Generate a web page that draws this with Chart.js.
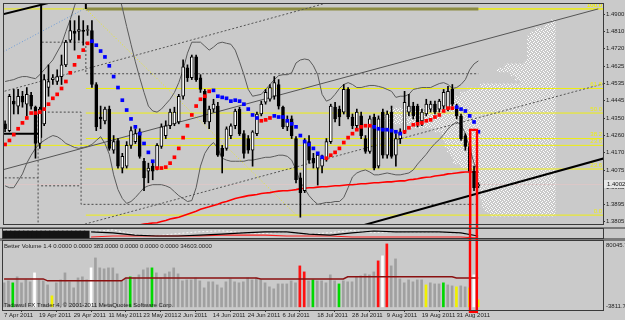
<!DOCTYPE html>
<html>
<head>
<meta charset="utf-8">
<title>EURUSD Daily</title>
<script src="https://cdn.jsdelivr.net/npm/chart.js@4.4.1/dist/chart.umd.min.js"></script>
<style>
  html, body { margin: 0; padding: 0; background: #cacaca; }
  #wrap { position: relative; width: 625px; height: 320px; overflow: hidden; background: #cacaca; }
  #wrap canvas { position: absolute; left: 0; }
  .sep { position: absolute; left: 0; width: 625px; background: #7c7c7c; }
</style>
</head>
<body>
<div id="wrap">
  <div class="sep" style="top:227px;height:2px"></div>
  <div class="sep" style="top:238px;height:3px"></div>
  <canvas id="profile" width="625" height="228" style="top:0"></canvas>
  <canvas id="main" width="625" height="228" style="top:0"></canvas>
  <canvas id="osc" width="625" height="11" style="top:228px"></canvas>
  <canvas id="vol" width="625" height="81" style="top:239px"></canvas>
</div>
<script>
// daily bars, 7 Apr 2011 .. 7 Sep 2011
const opens = [1.4323,1.4287,1.4443,1.4417,1.4469,1.4427,1.4474,1.4411,1.4219,1.4323,
  1.4515,1.4557,1.4547,1.4573,1.4635,1.4765,1.4812,1.4812,1.4817,1.4817,
  1.4817,1.4531,1.4359,1.4339,1.4401,1.4183,1.4235,1.4089,1.4099,1.4209,
  1.4229,1.4281,1.4125,1.4073,1.4099,1.4089,1.4203,1.4261,1.4313,1.4323,
  1.4333,1.4469,1.4619,1.4567,1.4677,1.4567,1.4495,1.4333,1.4401,1.4417,
  1.4193,1.4193,1.4261,1.4313,1.4401,1.4271,1.4245,1.4183,1.4271,1.4375,
  1.4437,1.4453,1.4469,1.4531,1.4411,1.4307,1.4349,1.4245,1.4037,1.3969,
  1.4229,1.4141,1.4089,1.4099,1.4141,1.4229,1.4411,1.4401,1.4385,1.4505,
  1.4359,1.4313,1.4365,1.4245,1.4177,1.4359,1.4099,1.4385,1.4157,1.4385,
  1.4157,1.4245,1.4281,1.4385,1.4417,1.4417,1.4339,1.4375,1.4401,1.4427,
  1.4401,1.4417,1.4401,1.4505,1.4417,1.4365,1.4261,1.4203,1.4073,1.3995];
const highs = [1.4339,1.4479,1.4505,1.4505,1.4495,1.4515,1.4489,1.4417,1.4411,1.4583,
  1.4635,1.4583,1.4609,1.4687,1.4765,1.4869,1.4869,1.4895,1.4869,1.4843,
  1.4869,1.4541,1.4417,1.4411,1.4417,1.4261,1.4245,1.4167,1.4229,1.4307,
  1.4297,1.4297,1.4141,1.4115,1.4125,1.4219,1.4323,1.4339,1.4401,1.4411,
  1.4479,1.4661,1.4635,1.4687,1.4687,1.4583,1.4505,1.4417,1.4453,1.4437,
  1.4209,1.4307,1.4323,1.4401,1.4411,1.4287,1.4261,1.4287,1.4385,1.4443,
  1.4505,1.4531,1.4573,1.4557,1.4417,1.4365,1.4365,1.4255,1.4063,1.4245,
  1.4261,1.4167,1.4167,1.4157,1.4245,1.4427,1.4437,1.4417,1.4531,1.4515,
  1.4375,1.4401,1.4385,1.4261,1.4365,1.4375,1.4365,1.4401,1.4391,1.4417,
  1.4271,1.4297,1.4495,1.4479,1.4437,1.4427,1.4401,1.4453,1.4443,1.4443,
  1.4453,1.4505,1.4521,1.4531,1.4427,1.4375,1.4271,1.4219,1.4099,1.4011];
const lows = [1.4281,1.4281,1.4375,1.4375,1.4411,1.4365,1.4401,1.4141,1.4193,1.4313,
  1.4469,1.4531,1.4531,1.4531,1.4625,1.4755,1.4713,1.4765,1.4739,1.4791,
  1.4515,1.4287,1.4297,1.4323,1.4183,1.4167,1.4089,1.4063,1.4089,1.4193,
  1.4219,1.4141,1.3969,1.4011,1.4027,1.4079,1.4193,1.4245,1.4297,1.4313,
  1.4323,1.4453,1.4547,1.4557,1.4547,1.4489,1.4323,1.4297,1.4385,1.4151,
  1.4063,1.4183,1.4245,1.4297,1.4261,1.4141,1.4167,1.4099,1.4261,1.4365,
  1.4427,1.4443,1.4453,1.4401,1.4297,1.4287,1.4245,1.4011,1.3829,1.3959,
  1.4115,1.4089,1.3999,1.4063,1.4125,1.4219,1.4333,1.4313,1.4375,1.4349,
  1.4297,1.4297,1.4245,1.4167,1.4167,1.4079,1.4089,1.4141,1.4141,1.4141,
  1.4099,1.4219,1.4271,1.4365,1.4349,1.4307,1.4313,1.4365,1.4385,1.4375,
  1.4385,1.4401,1.4391,1.4417,1.4349,1.4235,1.4183,1.4063,1.3969,1.3985];
const closes = [1.4297,1.4469,1.4427,1.4469,1.4437,1.4479,1.4417,1.4219,1.4401,1.4557,
  1.4547,1.4567,1.4573,1.4635,1.4755,1.4817,1.4801,1.4822,1.4812,1.4822,
  1.4531,1.4307,1.4349,1.4401,1.4193,1.4229,1.4099,1.4151,1.4209,1.4287,
  1.4271,1.4151,1.4037,1.4089,1.4073,1.4209,1.4307,1.4313,1.4385,1.4385,
  1.4469,1.4625,1.4567,1.4677,1.4557,1.4505,1.4333,1.4401,1.4427,1.4157,
  1.4151,1.4297,1.4313,1.4391,1.4271,1.4167,1.4183,1.4281,1.4375,1.4427,
  1.4489,1.4515,1.4541,1.4417,1.4307,1.4339,1.4261,1.4027,1.3959,1.4229,
  1.4131,1.4115,1.4157,1.4141,1.4229,1.4417,1.4349,1.4359,1.4505,1.4359,
  1.4313,1.4385,1.4261,1.4177,1.4349,1.4089,1.4349,1.4157,1.4375,1.4151,
  1.4245,1.4281,1.4437,1.4417,1.4365,1.4323,1.4385,1.4427,1.4427,1.4385,
  1.4443,1.4489,1.4495,1.4427,1.4365,1.4245,1.4203,1.4073,1.3985,1.4002];

// Bollinger bands
const bandUpper = [1.4547,1.4552,1.4557,1.4567,1.4573,1.4573,1.4567,1.4562,1.4583,1.4609,
  1.4635,1.4661,1.4703,1.4744,1.4812,1.4874,1.4947,1.5015,1.5051,1.5077,
  1.5087,1.5087,1.5087,1.5087,1.5077,1.5067,1.5025,1.4937,1.4838,1.4744,
  1.4651,1.4567,1.4489,1.4417,1.4391,1.4385,1.4401,1.4427,1.4453,1.4489,
  1.4541,1.4609,1.4697,1.4755,1.4755,1.4755,1.4734,1.4713,1.4729,1.4749,
  1.4755,1.4749,1.4744,1.4713,1.4651,1.4583,1.4505,1.4469,1.4474,1.4479,
  1.4505,1.4531,1.4557,1.4578,1.4583,1.4583,1.4593,1.4645,1.4661,1.4666,
  1.4661,1.4630,1.4583,1.4479,1.4443,1.4453,1.4479,1.4510,1.4531,1.4541,
  1.4531,1.4515,1.4515,1.4521,1.4526,1.4526,1.4521,1.4515,1.4505,1.4495,
  1.4463,1.4469,1.4469,1.4479,1.4505,1.4510,1.4515,1.4515,1.4515,1.4526,
  1.4536,1.4541,1.4531,1.4510,1.4515,1.4531,1.4557,1.4609,1.4640,1.4656];
const bandLower = [1.3995,1.3985,1.3985,1.4021,1.4058,1.4115,1.4157,1.4193,1.4219,1.4235,
  1.4250,1.4261,1.4255,1.4240,1.4219,1.4209,1.4198,1.4193,1.4198,1.4203,
  1.4214,1.4235,1.4255,1.4219,1.4162,1.4053,1.3975,1.3928,1.3902,1.3912,
  1.3933,1.3959,1.3985,1.3995,1.4001,1.4001,1.4001,1.3995,1.3985,1.3964,
  1.3943,1.3928,1.3912,1.3917,1.3985,1.4099,1.4167,1.4203,1.4224,1.4193,
  1.4141,1.4131,1.4125,1.4125,1.4125,1.4125,1.4131,1.4131,1.4136,1.4141,
  1.4146,1.4146,1.4151,1.4157,1.4157,1.4151,1.4131,1.4079,1.4016,1.3980,
  1.3943,1.3917,1.3897,1.3902,1.3907,1.3907,1.3912,1.3912,1.3933,1.3985,
  1.4042,1.4063,1.4073,1.4079,1.4068,1.4053,1.4053,1.4058,1.4063,1.4058,
  1.4053,1.4053,1.4058,1.4063,1.4079,1.4110,1.4136,1.4162,1.4193,1.4219,
  1.4240,1.4266,1.4297,1.4318,1.4333,1.4318,1.4271,1.4193,1.4115,1.4063];

// long moving average (red)
const maLong = [null,null,null,null,null,null,null,null,null,null,
  null,null,null,null,null,null,null,null,null,null,
  null,null,null,null,null,null,null,null,1.3777,1.3780,
  1.3782,1.3788,1.3793,1.3795,1.3798,1.3800,1.3806,1.3811,1.3819,1.3824,
  1.3829,1.3837,1.3845,1.3853,1.3860,1.3871,1.3878,1.3884,1.3891,1.3897,
  1.3907,1.3912,1.3920,1.3928,1.3933,1.3938,1.3943,1.3946,1.3949,1.3954,
  1.3957,1.3959,1.3964,1.3967,1.3969,1.3969,1.3972,1.3975,1.3980,1.3982,
  1.3985,1.3985,1.3988,1.3990,1.3990,1.3993,1.3995,1.3995,1.3998,1.4001,
  1.4001,1.4003,1.4006,1.4006,1.4009,1.4011,1.4011,1.4014,1.4016,1.4016,
  1.4019,1.4021,1.4021,1.4027,1.4029,1.4032,1.4037,1.4040,1.4042,1.4047,
  1.4050,1.4053,1.4058,1.4060,1.4063,1.4066,1.4068,1.4068,1.4068,1.4068];

// parabolic SAR: value and side (1 = below price / red, -1 = above / blue)
const sarValues = [1.4214,1.4235,1.4266,1.4297,1.4328,1.4354,1.4380,1.4380,1.4385,1.4401,
  1.4427,1.4458,1.4479,1.4510,1.4547,1.4593,1.4635,1.4677,1.4713,1.4749,
  1.4760,1.4739,1.4708,1.4677,1.4630,1.4573,1.4515,1.4448,1.4396,1.4349,
  1.4307,1.4271,1.4219,1.4172,1.4125,1.4089,1.4089,1.4094,1.4115,1.4146,
  1.4193,1.4250,1.4313,1.4370,1.4417,1.4453,1.4469,1.4495,1.4500,1.4469,
  1.4463,1.4458,1.4443,1.4448,1.4443,1.4427,1.4401,1.4370,1.4354,1.4339,
  1.4344,1.4354,1.4365,1.4359,1.4359,1.4339,1.4323,1.4307,1.4261,1.4229,
  1.4214,1.4193,1.4167,1.4146,1.4141,1.4157,1.4172,1.4193,1.4224,1.4250,
  1.4271,1.4292,1.4307,1.4313,1.4313,1.4307,1.4297,1.4292,1.4292,1.4287,
  1.4281,1.4271,1.4281,1.4302,1.4318,1.4323,1.4328,1.4339,1.4344,1.4359,
  1.4370,1.4391,1.4406,1.4406,1.4411,1.4401,1.4391,1.4365,1.4333,1.4281];
const sarSide = [1,1,1,1,1,1,1,1,1,1, 1,1,1,1,1,1,1,1,1,1,
  -1,-1,-1,-1,-1,-1,-1,-1,-1,-1, -1,-1,-1,-1,-1,1,1,1,1,1,
  1,1,1,1,1,1,1,1,-1,-1, -1,-1,-1,-1,-1,-1,-1,-1,-1,1,
  1,1,-1,-1,-1,-1,-1,-1,-1,-1, -1,-1,-1,-1,1,1,1,1,1,1,
  1,1,1,1,1,-1,-1,-1,-1,-1, -1,-1,1,1,1,1,1,1,1,1,
  1,1,1,1,-1,-1,-1,-1,-1,-1];

// price axis
const priceTicks = [1.4900,1.4810,1.4720,1.4625,1.4535,1.4445,1.4350,1.4260,1.4170,1.4075,1.3985,1.3895,1.3805];
const bidPrice = 1.4002;

// fibonacci retracements
const fibLevels = [1.4931,1.4510,1.4380,1.4245,1.4084,1.3840];
const fibLabels = ['100.0','61.8','50.0','38.2','23.6','0.0'];
const fibStart = 18.6;
const fib2Levels = [1.4931,1.4209];
const fib2Labels = ['100.0','23.6'];

// drawn objects: [bar index, price]
const channelLine = [[-1,1.4077],[136.6,1.4931]];
const channelDash = [[-1,1.4490],[80,1.5000]];
const lowerDash = [[17.5,1.3787],[138,1.4536]];
const supportLine = [[81.8,1.3782],[138,1.4141]];
const topLeftLine = [[-1,1.4900],[10.1,1.4963]];
const blueDotLine = [[-1,1.4697],[18.2,1.4931]];
const yellowDotLine = [[18.6,1.4931],[67.6,1.3829]];
const vertBar = [[8.3,1.4990],[8.3,1.4250]];
const horizBar = [[-1,1.4271],[7.6,1.4271]];
const vertTick = [[18.6,1.4990],[18.6,1.4931]];
const topBand = [[18.6,1.4931],[109,1.4931]];
const stepA = [[8.3,1.4250],[8.3,1.4755],[18.6,1.4755],[18.6,1.4588],[109,1.4588]];
const stepB = [[7.6,1.3780],[7.6,1.4385],[17.5,1.4385],[17.5,1.3897],[109,1.3897]];
const stepC = [[-1,1.4037],[7.6,1.4037]];
const stepD = [[8.3,1.3995],[17.5,1.3995]];
const redBoxIdx = 107.9;
const redBoxTop = 1.4297;

// price profile (white dots on the right)
const profileAnchor = 126.7;
const profilePrices = [1.4859,1.4838,1.4817,1.4796,1.4775,1.4755,1.4734,1.4713,1.4692,1.4671,
  1.4651,1.4630,1.4609,1.4588,1.4567,1.4547,1.4526,1.4505,1.4484,1.4463,
  1.4443,1.4422,1.4401,1.4380,1.4359,1.4339,1.4318,1.4297,1.4276,1.4255,
  1.4235,1.4214,1.4193,1.4172,1.4151,1.4131,1.4110,1.4089,1.4068,1.4048,
  1.4027,1.4006,1.3985,1.3964,1.3944,1.3923,1.3902,1.3881,1.3860];
const profileLen = [0.9,2.3,4.6,5.7,6.4,6.4,6.4,6.4,6.4,6.4,
  6.9,11.5,13.3,10.3,9.2,8.0,17.2,20.2,21.8,23.0,
  23.4,24.1,38.0,40.0,40.0,38.0,33.0,28.0,26.0,25.7,
  25.3,25.3,24.8,24.1,23.4,23.4,21.8,19.5,17.9,17.9,
  17.7,17.2,17.2,17.2,17.2,16.8,16.8,16.1,14.9];

// oscillator sub-window
const oscBlock = [78,78,78,78,78,78,78,78,78,78,78,78,78,78,78,78,78,78,78,78];
const oscIdx = [20,25,30,35,40,45,50,55,60,65,70,75,80,85,90,95,100,105,109];
const oscBlack = [67,56,33,22,22,33,44,56,67,67,44,33,56,78,67,67,67,56,22];
const oscRed = [11,22,22,22,22,22,33,33,33,22,22,22,11,11,11,11,11,11,0];
const oscGrey = [70,90,40,25,50,70,80,60,50,70,40,60,85,60,70,60,65,50,30];

// Better Volume
const volume = [29200,31600,29200,36500,29200,32800,30400,41300,32800,31600,
  26700,13400,29200,32800,41300,30400,23100,35200,36500,32800,
  47400,59500,47400,46200,47400,47400,40100,31600,35200,36500,
  35200,38900,45000,47400,47400,41300,35200,40100,42500,47400,
  40100,31600,32800,32800,35200,31600,23100,30400,30400,26700,
  23100,30400,34000,30400,29200,30400,35200,32800,35200,32800,
  29200,24300,21900,27900,27900,27900,31600,29200,49800,42500,
  31600,32800,31600,31600,29200,38900,31600,27900,31600,30400,
  30400,36500,37700,40100,38900,42500,55900,62000,76500,49800,
  58300,34000,29200,32800,30400,32800,32800,26700,29200,27900,
  27900,29200,26700,25500,24300,25500,24300,23100,38900,8500];
// n normal, g low volume, w churn, y climax low, r climax high
const volType = ('nngnnnnwnn' + 'nynnnnnnnn' + 'wnnnnnnnng' + 'nnnngnnnnn' + 'nnnnnnnnnn' +
  'nnnnnnnnnn' + 'nnnnnnnnrr' + 'ngnnnnngnn' + 'nnnnnnrwrn' + 'nnnnnnnynn' + 'ngnnynnywy').split('');
const volAvg = [34000,34000,34000,34000,34000,34000,34000,34000,34000,34000,
  31600,31600,31600,31600,31600,31600,31600,31600,31600,31600,
  31600,31600,31600,31600,31600,31600,31600,31600,35200,35200,
  35200,35200,35200,35200,35200,35200,35200,35200,35200,35200,
  35200,35200,35200,35200,35200,35200,35200,35200,35200,35200,
  35200,35200,35200,35200,35200,35200,35200,35200,35200,34000,
  34000,34000,34000,34000,34000,34000,34000,34000,34000,34000,
  34000,34000,34000,34000,34000,34000,34000,34000,34000,36500,
  36500,36500,36500,36500,36500,36500,36500,36500,36500,36500,
  36500,36500,36500,36500,36500,36500,36500,36500,36500,36500,
  36500,36500,36500,36500,35200,35200,35200,35200,35200,35200];
const volMin = -3811.7, volMax = 80045.7;
const volAxisLabels = ['80045.7', '-3811.7'];
const volTitle = 'Better Volume 1.4 0.0000 0.0000 383.0000 0.0000 0.0000 0.0000 34603.0000';
const copyright = 'Tadawul FX Trader 4, \u00a9 2001-2011 MetaQuotes Software Corp.';

// time axis
const dateIdx = [0,8,16,24,32,40,48,56,64,72,80,88,96,104];
const dateLabels = ['7 Apr 2011','19 Apr 2011','29 Apr 2011','11 May 2011','23 May 2011','2 Jun 2011',
  '14 Jun 2011','24 Jun 2011','6 Jul 2011','18 Jul 2011','28 Jul 2011','9 Aug 2011','19 Aug 2011','31 Aug 2011'];

const X_MIN = -0.25, X_MAX = 137.7;
const P_MIN = 1.3793, P_MAX = 1.4957;

const FONT = "'Liberation Sans Narrow', 'Liberation Sans', 'DejaVu Sans', sans-serif";
Chart.defaults.font.family = FONT;
Chart.defaults.font.size = 6;
Chart.defaults.animation = false;
Chart.defaults.plugins.legend.display = false;
Chart.defaults.plugins.tooltip.enabled = false;

const YELLOW = '#eeee10';
const VOL_COLORS = { n: '#a0a0a0', g: '#00d800', w: '#ffffff', y: '#f0f000', r: '#ff1010' };

const pts = arr => arr.map((v, i) => ({ x: i, y: v }));
const seg = arr => arr.map(([x, y]) => ({ x, y }));
const hidden = (min, max) => ({ type: 'linear', min, max, display: false, offset: false });

function line(data, color, width, dash, order) {
  return { type: 'line', data, borderColor: color, borderWidth: width, borderDash: dash,
    pointRadius: 0, tension: 0, fill: false, spanGaps: false, order };
}

function frame(ctx, a) {
  ctx.strokeStyle = '#3a3a3a';
  ctx.lineWidth = 1;
  ctx.strokeRect(a.left - 0.5, a.top - 0.5, a.right - a.left + 1, a.bottom - a.top + 1);
}

// ---- profile (behind everything) ----
function dotPattern(ctx) {
  const c = document.createElement('canvas');
  c.width = 4; c.height = 4;
  const g = c.getContext('2d');
  g.fillStyle = '#ffffff';
  [[0,0],[2,1],[1,2],[3,3]].forEach(([x, y]) => g.fillRect(x, y, 1, 1));
  return ctx.createPattern(c, 'repeat');
}

const profileCanvas = document.getElementById('profile');
new Chart(profileCanvas, {
  type: 'bar',
  data: {
    datasets: [{
      data: profilePrices.map((p, k) => ({ y: p, x: [profileAnchor - profileLen[k], profileAnchor] })),
      backgroundColor: dotPattern(profileCanvas.getContext('2d')),
      borderWidth: 0, barThickness: 4, grouped: false
    }]
  },
  options: {
    responsive: false, indexAxis: 'y',
    layout: { padding: { left: 3, top: 3, right: 22, bottom: 1 } },
    scales: { x: hidden(X_MIN, X_MAX), y: hidden(P_MIN, P_MAX) }
  }
});

// ---- main price window ----
const mainDecor = {
  id: 'mainDecor',
  afterDraw(chart) {
    const { ctx, chartArea: a } = chart;
    const y = chart.scales.y;
    ctx.save();
    ctx.font = '6px ' + FONT;
    ctx.fillStyle = YELLOW;
    ctx.textAlign = 'right';
    ctx.textBaseline = 'bottom';
    fibLevels.forEach((p, k) => ctx.fillText(fibLabels[k], a.right - 1, y.getPixelForValue(p) - 1));
    fib2Levels.forEach((p, k) => ctx.fillText(fib2Labels[k], a.right - 1, y.getPixelForValue(p) - 1));
    frame(ctx, a);
    const by = Math.round(y.getPixelForValue(bidPrice));
    ctx.fillStyle = '#e6e6e6';
    ctx.fillRect(a.right + 1, by - 4, 24, 8);
    ctx.fillStyle = '#111';
    ctx.textAlign = 'left';
    ctx.textBaseline = 'middle';
    ctx.fillText(bidPrice.toFixed(4), a.right + 4, by);
    ctx.restore();
  }
};

const fibSets = [
  ...fibLevels.map(p => line(seg([[fibStart, p], [X_MAX, p]]), YELLOW, 1, [], 12)),
  ...fib2Levels.map(p => line(seg([[X_MIN, p], [X_MAX, p]]), YELLOW, 1, [], 12))
];

new Chart(document.getElementById('main'), {
  type: 'scatter',
  data: {
    datasets: [
      { type: 'bar', grouped: false, clip: false, order: 0,
        data: [{ x: redBoxIdx, y: [1.3700, redBoxTop] }],
        backgroundColor: 'rgba(0,0,0,0)', borderColor: '#ff0000', borderWidth: 2,
        borderSkipped: false, barThickness: 9 },
      { type: 'line', showLine: false, order: 1,
        data: sarValues.map((v, i) => ({ x: i, y: sarSide[i] > 0 ? v : null })),
        pointStyle: 'rect', pointRadius: 2.6, pointBorderWidth: 0, pointBackgroundColor: '#ff0000' },
      { type: 'line', showLine: false, order: 1,
        data: sarValues.map((v, i) => ({ x: i, y: sarSide[i] < 0 ? v : null })),
        pointStyle: 'rect', pointRadius: 2.6, pointBorderWidth: 0, pointBackgroundColor: '#0000ff' },
      { type: 'bar', grouped: false, order: 3,
        data: opens.map((o, i) => ({ x: i, y: [o, closes[i]] })),
        backgroundColor: opens.map((o, i) => closes[i] >= o ? '#ffffff' : '#000000'),
        borderColor: '#000000', borderWidth: 1, borderSkipped: false, barThickness: 3, minBarLength: 1 },
      { type: 'bar', grouped: false, order: 4,
        data: highs.map((h, i) => ({ x: i, y: [lows[i], h] })),
        backgroundColor: '#000000', borderWidth: 0, barThickness: 1 },
      line(seg(supportLine), '#000000', 2, [], 5),
      line(seg(topLeftLine), '#000000', 2, [], 5),
      line(seg(vertBar), '#000000', 2, [], 5),
      line(seg(horizBar), '#000000', 2, [], 5),
      line(seg(vertTick), '#000000', 2, [], 5),
      line(pts(maLong), '#ff0000', 1.6, [], 6),
      line(pts(bandUpper), '#5a5a5a', 1, [], 7),
      line(pts(bandLower), '#5a5a5a', 1, [], 7),
      line(seg(channelLine), '#555555', 1, [], 8),
      line(seg(channelDash), '#555555', 1, [2, 2], 8),
      line(seg(lowerDash), '#555555', 1, [2, 2], 8),
      line(seg(stepA), '#4a4a4a', 1, [2, 2], 8),
      line(seg(stepB), '#4a4a4a', 1, [2, 2], 8),
      line(seg(stepC), '#4a4a4a', 1, [2, 2], 8),
      line(seg(stepD), '#4a4a4a', 1, [2, 2], 8),
      line(seg(blueDotLine), '#6a9ad8', 1, [1, 2], 8),
      line(seg(yellowDotLine), '#e8e820', 1, [1, 2], 8),
      line(seg(topBand), '#8c8c40', 3, [], 11),
      ...fibSets,
      line(seg([[X_MIN, bidPrice], [X_MAX, bidPrice]]), '#dcc8c8', 1, [], 13)
    ]
  },
  options: {
    responsive: false,
    layout: { padding: { left: 3, top: 3, right: 0, bottom: 1 } },
    scales: {
      x: hidden(X_MIN, X_MAX),
      y: {
        type: 'linear', position: 'right', min: P_MIN, max: P_MAX,
        afterBuildTicks: s => { s.ticks = priceTicks.map(v => ({ value: v })); },
        afterFit: s => { s.width = 22; s.paddingTop = 0; s.paddingBottom = 0; },
        ticks: { callback: v => v.toFixed(4), color: '#1c1c1c', padding: 1, autoSkip: false,
          font: { size: 6 } },
        grid: { drawOnChartArea: false, drawTicks: true, tickLength: 2, color: '#3a3a3a' },
        border: { display: true, color: '#3a3a3a' }
      }
    }
  },
  plugins: [mainDecor]
});

// ---- oscillator sub-window ----
new Chart(document.getElementById('osc'), {
  type: 'scatter',
  data: {
    datasets: [
      { type: 'bar', grouped: false, clip: false, order: 0,
        data: [{ x: redBoxIdx, y: [-200, 300] }],
        backgroundColor: 'rgba(0,0,0,0)', borderColor: '#ff0000', borderWidth: 2,
        borderSkipped: false, barThickness: 9 },
      line(oscIdx.map((x, k) => ({ x, y: oscBlack[k] })), '#000000', 1.2, [], 1),
      line(oscIdx.map((x, k) => ({ x, y: oscRed[k] })), '#ff2020', 1.2, [], 2),
      line(oscIdx.map((x, k) => ({ x, y: oscGrey[k] })), '#f4f4f4', 1, [2, 2], 3),
      { type: 'bar', grouped: false, order: 4, data: pts(oscBlock),
        backgroundColor: '#141414', borderWidth: 0, barThickness: 5 }
    ]
  },
  options: {
    responsive: false,
    layout: { padding: { left: 3, top: 1, right: 22, bottom: 1 } },
    scales: { x: hidden(X_MIN, X_MAX), y: hidden(0, 100) }
  },
  plugins: [{ id: 'oscFrame', afterDraw(chart) { chart.ctx.save(); frame(chart.ctx, chart.chartArea); chart.ctx.restore(); } }]
});

// ---- volume sub-window ----
const volDecor = {
  id: 'volDecor',
  afterDraw(chart) {
    const { ctx, chartArea: a } = chart;
    ctx.save();
    ctx.font = '6px ' + FONT;
    ctx.fillStyle = '#1e1e1e';
    ctx.textAlign = 'left';
    ctx.textBaseline = 'top';
    ctx.fillText(volTitle, a.left + 1, a.top + 2);
    ctx.fillText(volAxisLabels[0], a.right + 3, a.top + 1);
    ctx.textBaseline = 'bottom';
    ctx.fillText(copyright, a.left + 1, a.bottom - 2);
    ctx.fillText(volAxisLabels[1], a.right + 3, a.bottom - 1);
    frame(ctx, a);
    ctx.restore();
  }
};

new Chart(document.getElementById('vol'), {
  type: 'scatter',
  data: {
    datasets: [
      { type: 'bar', grouped: false, clip: false, order: 0,
        data: [{ x: redBoxIdx, y: [-7460, 120000] }],
        backgroundColor: 'rgba(0,0,0,0)', borderColor: '#ff0000', borderWidth: 2,
        borderSkipped: false, barThickness: 9 },
      line(pts(volAvg), '#8a1010', 1.5, [], 1),
      { type: 'bar', grouped: false, order: 2, data: pts(volume),
        backgroundColor: volType.map(t => VOL_COLORS[t]), borderWidth: 0, barThickness: 2 }
    ]
  },
  options: {
    responsive: false,
    layout: { padding: { left: 3, top: 2, right: 0, bottom: 0 } },
    scales: {
      x: {
        type: 'linear', min: X_MIN, max: X_MAX, offset: false,
        afterBuildTicks: s => { s.ticks = dateIdx.map(v => ({ value: v })); },
        afterFit: s => { s.height = 10; s.paddingLeft = 0; s.paddingRight = 0; },
        ticks: { callback: v => dateLabels[dateIdx.indexOf(v)] ?? '', align: 'start',
          maxRotation: 0, autoSkip: false, padding: 0, color: '#1c1c1c', font: { size: 6 } },
        grid: { drawOnChartArea: false, drawTicks: true, tickLength: 2, color: '#3a3a3a' },
        border: { display: true, color: '#3a3a3a' }
      },
      y: {
        type: 'linear', position: 'right', min: volMin, max: volMax,
        afterFit: s => { s.width = 22; s.paddingTop = 0; s.paddingBottom = 0; },
        ticks: { display: false },
        grid: { drawOnChartArea: false, drawTicks: false },
        border: { display: true, color: '#3a3a3a' }
      }
    }
  },
  plugins: [volDecor]
});
</script>
</body>
</html>
